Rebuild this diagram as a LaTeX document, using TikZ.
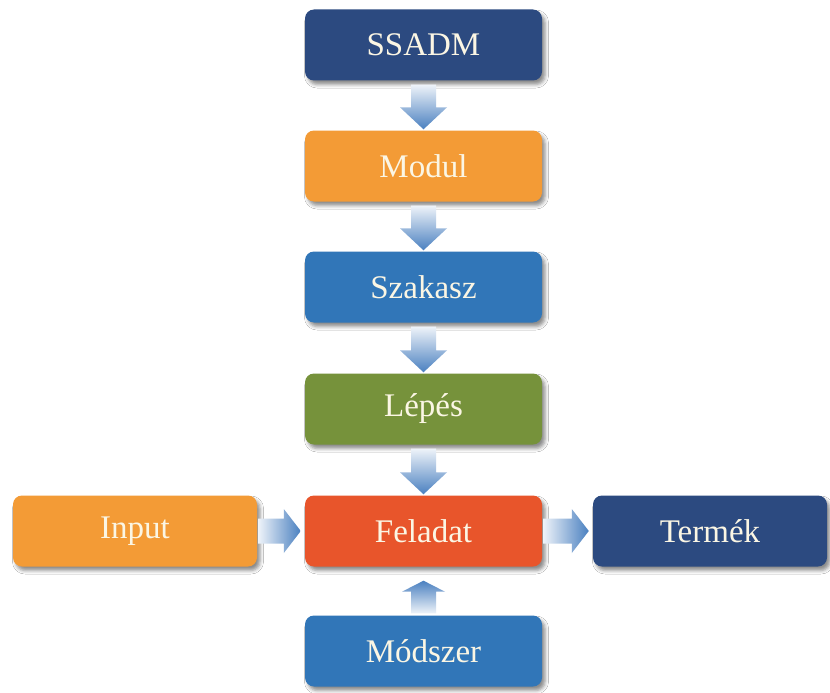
\documentclass[tikz,border=0pt]{standalone}
\usepackage{fontspec}
\setmainfont{Liberation Serif}
\usetikzlibrary{calc,shadows.blur}

\definecolor{navyfill}{HTML}{2C4A80}
\definecolor{orangefill}{HTML}{F39B36}
\definecolor{bluefill}{HTML}{3176B8}
\definecolor{greenfill}{HTML}{76923B}
\definecolor{redfill}{HTML}{E8552B}
\definecolor{boxtext}{HTML}{FBF6E4}
\definecolor{arrowlight}{HTML}{EEF3F9}
\definecolor{arrowblue}{HTML}{4A80C0}

\tikzset{
  stage/.style={rectangle, rounded corners=9pt, minimum width=237pt,
    minimum height=71pt, inner sep=0pt, text=boxtext,
    font=\fontsize{33}{38}\selectfont,
    blur shadow={shadow xshift=3pt, shadow yshift=-4pt,
      shadow blur radius=3.5pt, shadow opacity=45}},
  flowdown/.style={top color=arrowlight, bottom color=arrowblue},
  flowup/.style={top color=arrowblue, bottom color=arrowlight},
  flowright/.style={left color=arrowlight, right color=arrowblue},
}

\begin{document}
\begin{tikzpicture}[x=1pt, y=-1pt]
  \useasboundingbox[fill=white] (0,0) rectangle (830,693);

  % main column
  \node[stage, fill=navyfill]   (ssadm)   at (423.5,45)  {SSADM};
  \node[stage, fill=orangefill] (modul)   at (423.5,166) {Modul};
  \node[stage, fill=bluefill]   (szakasz) at (423.5,287) {Szakasz};
  \node[stage, fill=greenfill]  (lepes)   at (423.5,409) {Lépés};
  \node[stage, fill=redfill]    (feladat) at (423.5,531) {Feladat};
  \node[stage, fill=bluefill]   (modszer) at (423.5,651) {Módszer};

  % side boxes
  \node[stage, fill=orangefill, minimum width=244pt] (input)  at (135,531) {Input};
  \node[stage, fill=navyfill,   minimum width=234pt] (termek) at (710,531) {Termék};

  % downward block arrows between stacked boxes
  \foreach \a/\b in {ssadm/modul, modul/szakasz, szakasz/lepes, lepes/feladat}{
    \shade[flowdown] let \p1=(\a.south), \p2=(\b.north) in
      (\x1-12.5pt,\y1-4pt) -- (\x1+12.5pt,\y1-4pt) -- (\x1+12.5pt,\y2+23pt)
      -- (\x1+23.5pt,\y2+23pt) -- (\x1,\y2+1pt) -- (\x1-23.5pt,\y2+23pt)
      -- (\x1-12.5pt,\y2+23pt) -- cycle;
  }

  % upward block arrow from the method box
  \shade[flowup] let \p1=(modszer.north), \p2=(feladat.south) in
    (\x1-12.5pt,\y1+2pt) -- (\x1+12.5pt,\y1+2pt) -- (\x1+12.5pt,\y2-25pt)
    -- (\x1+21.5pt,\y2-25pt) -- (\x1,\y2-14pt) -- (\x1-21.5pt,\y2-25pt)
    -- (\x1-12.5pt,\y2-25pt) -- cycle;

  % rightward block arrows
  \foreach \a/\b in {input/feladat, feladat/termek}{
    \shade[flowright] let \p1=(\a.east), \p2=(\b.west) in
      (\x1+1pt,\y1+12.5pt) -- (\x2-21pt,\y1+12.5pt) -- (\x2-21pt,\y1+22pt)
      -- (\x2-4pt,\y1) -- (\x2-21pt,\y1-22pt) -- (\x2-21pt,\y1-12.5pt)
      -- (\x1+1pt,\y1-12.5pt) -- cycle;
  }
\end{tikzpicture}
\end{document}
